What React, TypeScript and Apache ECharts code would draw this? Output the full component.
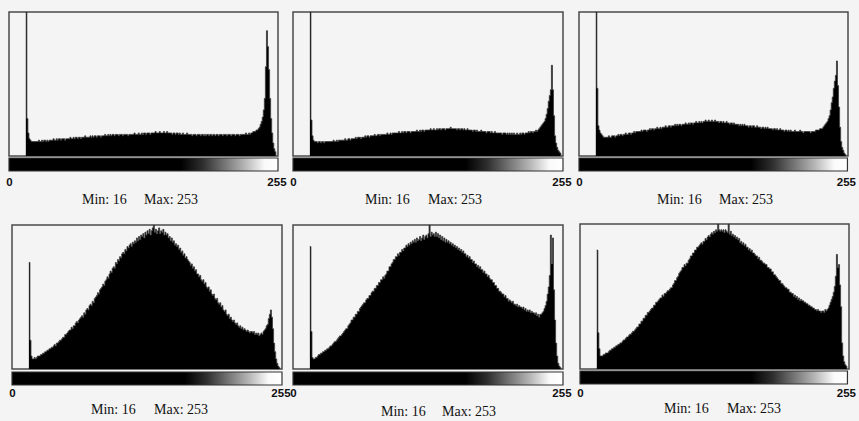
import React, { useEffect, useRef } from "react";
import * as echarts from "echarts";

// Histogram bins start at the minimum grey level (16) and end at 253.
const FIRST_BIN = 16;
const MIN_VALUE = 16;
const MAX_VALUE = 253;
const AXIS_TICKS = [0, 255];

// Heights in percent of the plot height, bins 16..253 (rows of 10 bins).
const hist1 = [
  100, 26, 16, 12, 11, 10, 10, 10, 10, 10,
  10, 10, 11, 10, 10, 11, 10, 11, 11, 10,
  11, 10, 11, 11, 11, 11, 12, 11, 11, 12,
  11, 12, 12, 11, 12, 12, 12, 11, 12, 12,
  12, 12, 13, 12, 12, 13, 12, 13, 13, 12,
  13, 13, 12, 13, 13, 13, 14, 13, 13, 13,
  13, 14, 13, 14, 13, 14, 14, 13, 14, 14,
  14, 13, 14, 14, 14, 15, 14, 14, 15, 14,
  15, 14, 15, 15, 14, 15, 15, 15, 14, 15,
  15, 15, 14, 15, 15, 15, 15, 14, 15, 15,
  15, 15, 15, 16, 15, 15, 15, 16, 15, 15,
  16, 15, 16, 16, 15, 16, 16, 16, 15, 16,
  16, 16, 16, 17, 16, 16, 16, 17, 16, 16,
  16, 17, 16, 16, 17, 16, 16, 16, 16, 15,
  16, 16, 15, 16, 16, 15, 16, 15, 15, 16,
  15, 15, 15, 16, 15, 15, 15, 15, 14, 15,
  15, 15, 14, 15, 15, 15, 14, 15, 15, 14,
  15, 14, 15, 15, 14, 15, 15, 14, 15, 15,
  14, 15, 15, 14, 15, 15, 15, 14, 15, 15,
  15, 14, 15, 15, 15, 14, 15, 15, 15, 14,
  15, 15, 15, 14, 15, 15, 15, 15, 15, 16,
  15, 15, 16, 15, 16, 16, 17, 17, 17, 18,
  18, 19, 20, 22, 24, 27, 32, 40, 62, 87,
  76, 60, 40, 26, 16, 9, 5, 3,
];

const hist2 = [
  100, 25, 14, 11, 10, 10, 10, 9, 10, 10,
  9, 10, 10, 9, 10, 10, 10, 10, 10, 10,
  10, 10, 11, 10, 10, 11, 10, 11, 11, 11,
  11, 11, 11, 12, 11, 11, 12, 12, 11, 12,
  12, 12, 12, 13, 12, 13, 13, 13, 12, 13,
  13, 13, 14, 13, 14, 14, 13, 14, 14, 14,
  14, 15, 14, 14, 15, 15, 14, 15, 15, 15,
  15, 15, 15, 16, 15, 15, 16, 15, 16, 16,
  16, 16, 16, 16, 17, 16, 16, 17, 16, 17,
  17, 16, 17, 17, 17, 16, 17, 17, 17, 17,
  17, 18, 17, 17, 18, 17, 18, 18, 17, 18,
  18, 18, 18, 18, 19, 18, 18, 19, 18, 18,
  19, 18, 19, 19, 18, 19, 19, 19, 18, 19,
  19, 19, 19, 20, 19, 19, 19, 19, 19, 18,
  19, 19, 18, 19, 19, 18, 19, 18, 18, 19,
  18, 18, 18, 18, 17, 18, 18, 17, 18, 17,
  17, 17, 18, 17, 17, 17, 17, 16, 17, 17,
  17, 16, 17, 16, 16, 17, 16, 16, 16, 16,
  16, 16, 15, 16, 16, 16, 15, 16, 15, 16,
  15, 16, 15, 16, 15, 15, 16, 15, 15, 16,
  15, 16, 16, 15, 16, 16, 16, 17, 16, 17,
  17, 16, 17, 17, 18, 17, 18, 19, 20, 21,
  22, 23, 24, 26, 29, 33, 38, 42, 46, 63,
  46, 28, 14, 9, 6, 4, 3, 2,
];

const hist3 = [
  100, 47, 21, 18, 16, 15, 14, 13, 13, 13,
  13, 13, 14, 13, 13, 14, 14, 14, 13, 14,
  14, 15, 14, 15, 15, 14, 15, 15, 16, 15,
  15, 16, 16, 15, 16, 16, 17, 16, 17, 17,
  17, 17, 17, 18, 17, 18, 18, 18, 17, 18,
  18, 19, 18, 19, 19, 18, 19, 19, 20, 19,
  19, 20, 19, 20, 20, 20, 21, 20, 20, 21,
  21, 20, 21, 21, 21, 22, 21, 22, 21, 22,
  22, 21, 22, 22, 22, 23, 22, 22, 23, 22,
  23, 23, 22, 23, 23, 24, 23, 23, 24, 23,
  24, 23, 24, 24, 25, 24, 24, 25, 24, 24,
  25, 24, 24, 25, 24, 24, 24, 23, 24, 24,
  23, 24, 23, 23, 24, 23, 23, 22, 23, 23,
  22, 23, 22, 22, 22, 22, 21, 22, 21, 22,
  21, 22, 21, 21, 21, 20, 21, 21, 20, 21,
  21, 20, 20, 21, 20, 20, 20, 19, 20, 20,
  19, 20, 19, 20, 19, 19, 19, 19, 18, 19,
  19, 18, 19, 18, 18, 19, 18, 18, 18, 17,
  18, 18, 17, 18, 17, 18, 17, 17, 17, 18,
  17, 17, 17, 17, 18, 17, 17, 16, 17, 17,
  17, 17, 17, 17, 16, 17, 17, 17, 17, 18,
  18, 18, 18, 19, 19, 19, 20, 21, 22, 23,
  24, 26, 28, 32, 37, 41, 47, 52, 56, 66,
  49, 34, 20, 10, 6, 4, 2, 1,
];

const hist4 = [
  74, 20, 9, 7, 7, 8, 7, 8, 9, 9,
  9, 10, 10, 11, 11, 12, 12, 13, 13, 14,
  14, 15, 15, 16, 17, 16, 18, 18, 19, 20,
  20, 21, 22, 22, 24, 24, 25, 26, 27, 27,
  29, 28, 30, 30, 32, 33, 32, 34, 35, 36,
  37, 36, 39, 38, 41, 42, 41, 44, 45, 44,
  47, 46, 49, 50, 51, 53, 52, 55, 56, 57,
  59, 58, 61, 62, 64, 63, 66, 68, 67, 70,
  71, 70, 74, 73, 76, 75, 78, 77, 80, 81,
  80, 83, 82, 85, 84, 86, 87, 85, 88, 87,
  89, 88, 91, 89, 92, 90, 93, 92, 94, 91,
  95, 93, 96, 94, 97, 93, 96, 98, 100, 95,
  97, 94, 96, 98, 94, 96, 95, 97, 93, 95,
  93, 94, 91, 92, 89, 91, 88, 89, 86, 87,
  85, 86, 83, 84, 81, 82, 79, 80, 77, 78,
  76, 75, 74, 72, 73, 70, 71, 68, 69, 66,
  66, 64, 65, 62, 61, 62, 59, 60, 57, 56,
  57, 54, 55, 52, 51, 52, 49, 48, 49, 46,
  45, 46, 43, 44, 41, 40, 41, 38, 37, 38,
  35, 36, 34, 33, 34, 32, 31, 32, 30, 29,
  30, 28, 29, 27, 28, 27, 26, 27, 26, 25,
  26, 26, 25, 26, 24, 25, 24, 25, 23, 24,
  25, 24, 26, 27, 28, 30, 31, 35, 38, 41,
  36, 28, 18, 12, 7, 4, 2, 1,
];

const hist5 = [
  85, 26, 8, 7, 7, 8, 8, 9, 10, 10,
  11, 11, 12, 12, 13, 13, 14, 14, 15, 16,
  16, 17, 18, 19, 19, 20, 21, 22, 23, 23,
  24, 25, 26, 27, 28, 28, 30, 31, 32, 34,
  34, 36, 36, 38, 38, 40, 40, 42, 43, 44,
  45, 46, 46, 48, 49, 49, 51, 51, 53, 54,
  54, 56, 56, 58, 58, 60, 60, 62, 62, 64,
  63, 65, 66, 68, 68, 71, 71, 73, 74, 76,
  76, 78, 78, 80, 79, 81, 81, 83, 82, 84,
  84, 86, 85, 87, 86, 88, 87, 89, 88, 90,
  88, 91, 89, 90, 92, 89, 91, 93, 90, 92,
  93, 91, 94, 100, 92, 95, 93, 94, 92, 95,
  92, 94, 91, 93, 90, 92, 89, 91, 88, 90,
  88, 89, 87, 88, 86, 87, 85, 86, 84, 85,
  83, 84, 82, 83, 81, 82, 80, 80, 78, 79,
  77, 78, 76, 76, 74, 75, 73, 73, 71, 72,
  70, 71, 69, 69, 67, 68, 66, 66, 64, 65,
  63, 62, 62, 60, 60, 58, 58, 56, 56, 54,
  54, 53, 52, 52, 50, 51, 49, 49, 47, 48,
  47, 46, 47, 45, 45, 44, 45, 43, 44, 43,
  43, 42, 43, 41, 42, 40, 41, 40, 41, 39,
  40, 39, 39, 38, 39, 37, 38, 36, 38, 38,
  39, 40, 42, 44, 47, 52, 57, 65, 93, 73,
  91, 55, 34, 18, 9, 4, 2, 1,
];

const hist6 = [
  82, 25, 14, 9, 9, 9, 10, 10, 11, 11,
  11, 12, 13, 13, 14, 14, 15, 15, 16, 16,
  17, 17, 18, 18, 19, 20, 20, 21, 22, 22,
  23, 24, 24, 25, 26, 26, 27, 28, 29, 29,
  31, 31, 33, 33, 35, 35, 37, 37, 39, 39,
  40, 41, 42, 42, 44, 44, 46, 46, 47, 48,
  49, 49, 51, 50, 52, 52, 53, 54, 54, 55,
  56, 56, 58, 59, 61, 61, 63, 64, 66, 67,
  68, 70, 70, 72, 71, 73, 73, 75, 76, 78,
  78, 80, 80, 82, 82, 84, 84, 85, 86, 87,
  86, 88, 88, 90, 89, 91, 92, 91, 93, 94,
  93, 95, 94, 96, 95, 100, 96, 95, 96, 95,
  96, 94, 96, 95, 94, 100, 93, 95, 92, 93,
  91, 92, 90, 91, 89, 90, 87, 88, 86, 87,
  85, 86, 84, 84, 82, 83, 81, 82, 80, 80,
  79, 78, 78, 76, 77, 75, 75, 74, 73, 73,
  72, 72, 70, 70, 69, 69, 67, 67, 65, 65,
  64, 63, 62, 61, 61, 59, 59, 58, 57, 56,
  56, 55, 55, 53, 53, 52, 52, 50, 51, 49,
  50, 48, 49, 47, 48, 47, 47, 46, 46, 45,
  45, 44, 44, 43, 43, 42, 42, 41, 41, 40,
  41, 40, 40, 39, 40, 40, 39, 41, 40, 41,
  42, 44, 46, 48, 50, 53, 57, 64, 79, 70,
  72, 58, 43, 18, 9, 5, 3, 2,
];

const HISTS = [hist1, hist2, hist3, hist4, hist5, hist6];

// Layout of each panel (pixels).
const LAYOUT = [
  { left: 9, top: 12, width: 269, height: 144, barTop: 158, labelMargin: 5, minX: 82, maxX: 144, textY: 200 },
  { left: 293, top: 12, width: 270, height: 144, barTop: 158, labelMargin: 5, minX: 365, maxX: 428, textY: 200 },
  { left: 579, top: 12, width: 269, height: 144, barTop: 158, labelMargin: 5, minX: 657, maxX: 719, textY: 200 },
  { left: 12, top: 225, width: 270, height: 144, barTop: 372, labelMargin: 2, minX: 91, maxX: 154, textY: 410 },
  { left: 293, top: 225, width: 270, height: 144, barTop: 372, labelMargin: 2, minX: 381, maxX: 442, textY: 412 },
  { left: 580, top: 224, width: 269, height: 145, barTop: 371, labelMargin: 3, minX: 664, maxX: 727, textY: 409 },
];

const BAR_HEIGHT = 13;
const BG = "#f4f4f4";

export default function App() {
  const ref = useRef<HTMLDivElement>(null);

  useEffect(() => {
    if (!ref.current) return;
    const chart = echarts.init(ref.current, undefined, { renderer: "svg" });

    const grids: any[] = [];
    const xAxes: any[] = [];
    const yAxes: any[] = [];
    const series: any[] = [];
    const graphics: any[] = [];

    LAYOUT.forEach((p, k) => {
      grids.push({
        left: p.left,
        top: p.top,
        width: p.width,
        height: p.height,
        show: true,
        borderColor: "#4a4a4a",
        borderWidth: 1.5,
        backgroundColor: BG,
        containLabel: false,
      });
      xAxes.push({ gridIndex: k, type: "value", min: 0, max: 256, show: false });
      yAxes.push({ gridIndex: k, type: "value", min: 0, max: 100, show: false });
      const data = HISTS[k].map((v, i) => [FIRST_BIN + i, v]);
      data.push([MAX_VALUE + 1, 0]);
      series.push({
        type: "line",
        xAxisIndex: k,
        yAxisIndex: k,
        step: "end",
        symbol: "none",
        silent: true,
        clip: true,
        data,
        lineStyle: { color: "#3c3c3c", width: 0.8 },
        areaStyle: { color: "#000", opacity: 1 },
      });

      graphics.push({
        type: "text",
        left: p.minX,
        top: p.textY - 8,
        style: { text: `Min: ${MIN_VALUE}`, font: '14px "Liberation Serif"', fill: "#111" },
      });
      graphics.push({
        type: "text",
        left: p.maxX,
        top: p.textY - 8,
        style: { text: `Max: ${MAX_VALUE}`, font: '14px "Liberation Serif"', fill: "#111" },
      });
    });

    LAYOUT.forEach((p, k) => {
      const gi = LAYOUT.length + k;
      grids.push({
        left: p.left,
        top: p.barTop,
        width: p.width,
        height: BAR_HEIGHT,
        show: true,
        borderColor: "#333",
        borderWidth: 1.2,
        backgroundColor: new echarts.graphic.LinearGradient(0, 0, 1, 0, [
          { offset: 0, color: "#000" },
          { offset: 0.64, color: "#000" },
          { offset: 0.72, color: "#2e2e2e" },
          { offset: 0.8, color: "#747474" },
          { offset: 0.88, color: "#b8b8b8" },
          { offset: 0.95, color: "#fafafa" },
          { offset: 1, color: "#fff" },
        ]),
      });
      xAxes.push({
        gridIndex: gi,
        type: "value",
        min: -0.5,
        max: 256,
        axisLine: { show: false },
        axisTick: { show: false },
        splitLine: { show: false },
        axisLabel: {
          show: true,
          customValues: AXIS_TICKS,
          margin: p.labelMargin,
          fontFamily: "Liberation Sans",
          fontSize: 11.5,
          fontWeight: "bold",
          color: "#111",
        },
      });
      yAxes.push({ gridIndex: gi, type: "value", min: 0, max: 1, show: false });
    });

    chart.setOption({
      animation: false,
      backgroundColor: BG,
      grid: grids,
      xAxis: xAxes,
      yAxis: yAxes,
      series,
      graphic: graphics,
    });

    return () => chart.dispose();
  }, []);

  return (
    <div
      ref={ref}
      style={{ position: "fixed", left: 0, top: 0, width: 859, height: 421, background: BG }}
    />
  );
}
